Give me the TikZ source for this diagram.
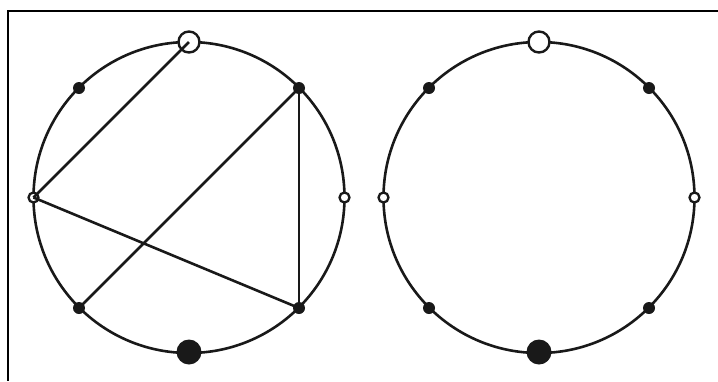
\documentclass[tikz,border=0pt]{standalone}
\begin{document}
\begin{tikzpicture}[x=1pt,y=-1pt,
  ring/.style={line width=2.6pt,draw=black!90},
  hollowbig/.style={circle,draw=black!90,fill=white,line width=2.4pt,minimum size=21pt,inner sep=0pt},
  hollowsmall/.style={circle,draw=black!90,fill=white,line width=2.3pt,minimum size=10pt,inner sep=0pt},
  dotsmall/.style={circle,fill=black!90,minimum size=12pt,inner sep=0pt},
  dotbig/.style={circle,fill=black!90,minimum size=25pt,inner sep=0pt},
  chord/.style={line width=2.6pt,draw=black!90}]
\useasboundingbox (0,0) rectangle (718,381);
\draw[line width=1.6pt] (718,11) -- (8,11) -- (8,381);
% left
\draw[ring] (189,197.5) circle (155.5);
\node[hollowbig] (lt) at (189,42) {};
\node[hollowsmall] (ll) at (33.5,197.5) {};
\node[hollowsmall] (lr) at (344.5,197.5) {};
\draw[chord] (ll.center) -- (lt.center);
\coordinate (lurpos) at (299,88);
\coordinate (llrpos) at (299,308);
\coordinate (lllpos) at (79,308);
\draw[chord] (ll.center) -- (llrpos);
\draw[chord] (lllpos) -- (lurpos);
\draw[chord] (lurpos) -- (llrpos);
\node[dotsmall] (lur) at (lurpos) {};
\node[dotsmall] (llr) at (llrpos) {};
\node[dotsmall] (lll) at (lllpos) {};
\node[dotsmall] (lul) at (79,88) {};
\node[dotbig] (lb) at (189,352) {};
% right
\draw[ring] (539,197.5) circle (155.5);
\node[hollowbig] (rt) at (539,42) {};
\node[hollowsmall] (rl) at (383.5,197.5) {};
\node[hollowsmall] (rr) at (694.5,197.5) {};
\node[dotsmall] (rur) at (649,88) {};
\node[dotsmall] (rul) at (429,88) {};
\node[dotsmall] (rlr) at (649,308) {};
\node[dotsmall] (rll) at (429,308) {};
\node[dotbig] (rb) at (539,352) {};
\end{tikzpicture}
\end{document}
